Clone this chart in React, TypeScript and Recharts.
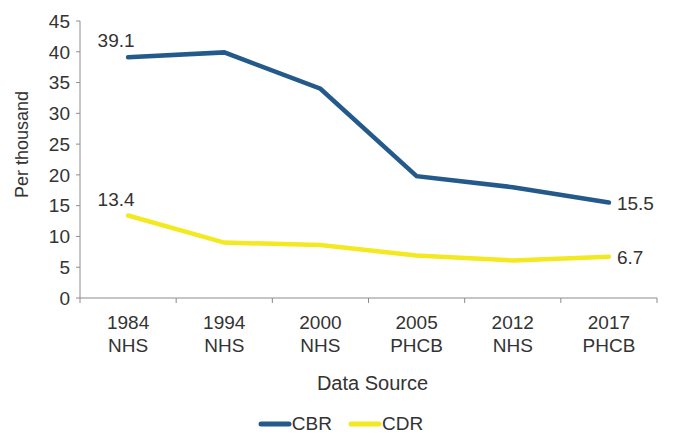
import { LineChart, Line, XAxis, YAxis, Legend, Label, LabelList } from "recharts";

const years = ["1984", "1994", "2000", "2005", "2012", "2017"];
const sources = ["NHS", "NHS", "NHS", "PHCB", "NHS", "PHCB"];
const cbr = [39.1, 39.9, 34.0, 19.8, 18.0, 15.5];
const cdr = [13.4, 9.0, 8.6, 6.9, 6.1, 6.7];
const yTicks = [0, 5, 10, 15, 20, 25, 30, 35, 40, 45];

const W = 681;
const H = 437;
const Y_W = 80;
const RIGHT = 24;
const FONT = "'Liberation Sans', Arial, Helvetica, sans-serif";
const TXT = "#333";
const AXIS = "#8c8c8c";
const BLUE = "#245a8b";
const YELLOW = "#f3e920";
const FS = 19;

const data = years.map((y, i) => ({
  year: y,
  source: sources[i],
  key: `${y} ${sources[i]}`,
  CBR: cbr[i],
  CDR: cdr[i],
}));

const half = (W - Y_W - RIGHT) / years.length / 2;

function XTick(props: any) {
  const { x, y, index, payload } = props;
  const d = data[index] ?? data.find((r) => r.key === payload.value);
  return (
    <g>
      <line x1={x - half} x2={x - half} y1={y} y2={y + 5} stroke={AXIS} />
      {index === data.length - 1 && (
        <line x1={x + half} x2={x + half} y1={y} y2={y + 5} stroke={AXIS} />
      )}
      <text x={x} y={y + 31} textAnchor="middle" fill={TXT} fontSize={FS} fontFamily={FONT}>
        {d.year}
      </text>
      <text x={x} y={y + 54} textAnchor="middle" fill={TXT} fontSize={FS} fontFamily={FONT}>
        {d.source}
      </text>
    </g>
  );
}

// only first and last points are labelled
function EndLabel(props: any) {
  const { x, y, value, index } = props;
  if (index === 0) {
    return (
      <text x={x - 12} y={y - 10} textAnchor="middle" fill={TXT} fontSize={FS} fontFamily={FONT}>
        {value}
      </text>
    );
  }
  if (index === data.length - 1) {
    return (
      <text x={x + 8} y={y + 7} textAnchor="start" fill={TXT} fontSize={FS} fontFamily={FONT}>
        {value}
      </text>
    );
  }
  return null;
}

function LegendBox({ payload }: any) {
  return (
    <div style={{ display: "flex", justifyContent: "center", alignItems: "center", gap: 16, fontFamily: FONT, fontSize: FS, color: TXT }}>
      {(payload || []).map((p: any) => (
        <div key={p.value} style={{ display: "flex", alignItems: "center" }}>
          <svg width={34} height={8}>
            <line x1={3} x2={31} y1={4} y2={4} stroke={p.color} strokeWidth={5} strokeLinecap="round" />
          </svg>
          <span>{p.value}</span>
        </div>
      ))}
    </div>
  );
}

export default function App() {
  return (
    <div style={{ position: "absolute", left: 0, top: 0, background: "#fff" }}>
      <LineChart width={W} height={H} data={data} margin={{ top: 21, right: RIGHT, left: 0, bottom: 39 }}>
        <XAxis
          dataKey="key"
          height={100}
          interval={0}
          padding={{ left: half, right: half }}
          tickSize={0}
          tickMargin={0}
          tickLine={false}
          axisLine={{ stroke: AXIS }}
          tick={<XTick />}
        >
          <Label
            content={(p: any) => {
              const vb = p.viewBox;
              return (
                <text x={vb.x + vb.width / 2 + 4} y={vb.y + 92} textAnchor="middle" fill={TXT} fontSize={20} fontFamily={FONT}>
                  Data Source
                </text>
              );
            }}
          />
        </XAxis>
        <YAxis
          width={Y_W}
          domain={[0, 45]}
          ticks={yTicks}
          interval={0}
          tickSize={4}
          tickMargin={6}
          axisLine={{ stroke: AXIS }}
          tickLine={{ stroke: AXIS }}
          tick={{ fill: TXT, fontSize: FS, fontFamily: FONT }}
        >
          <Label
            content={(p: any) => {
              const vb = p.viewBox;
              const cy = vb.y + vb.height / 2 - 15;
              return (
                <text
                  transform={`translate(${vb.x + 22},${cy}) rotate(-90)`}
                  textAnchor="middle"
                  dominantBaseline="central"
                  fill={TXT}
                  fontSize={18}
                  fontFamily={FONT}
                >
                  Per thousand
                </text>
              );
            }}
          />
        </YAxis>
        <Legend
          layout="horizontal"
          verticalAlign="middle"
          align="center"
          wrapperStyle={{ top: 413, left: 0, width: W }}
          content={<LegendBox />}
        />
        <Line dataKey="CBR" stroke={BLUE} strokeWidth={4.5} strokeLinecap="round" dot={false} isAnimationActive={false}>
          <LabelList dataKey="CBR" content={<EndLabel />} />
        </Line>
        <Line dataKey="CDR" stroke={YELLOW} strokeWidth={4.5} strokeLinecap="round" dot={false} isAnimationActive={false}>
          <LabelList dataKey="CDR" content={<EndLabel />} />
        </Line>
      </LineChart>
    </div>
  );
}
